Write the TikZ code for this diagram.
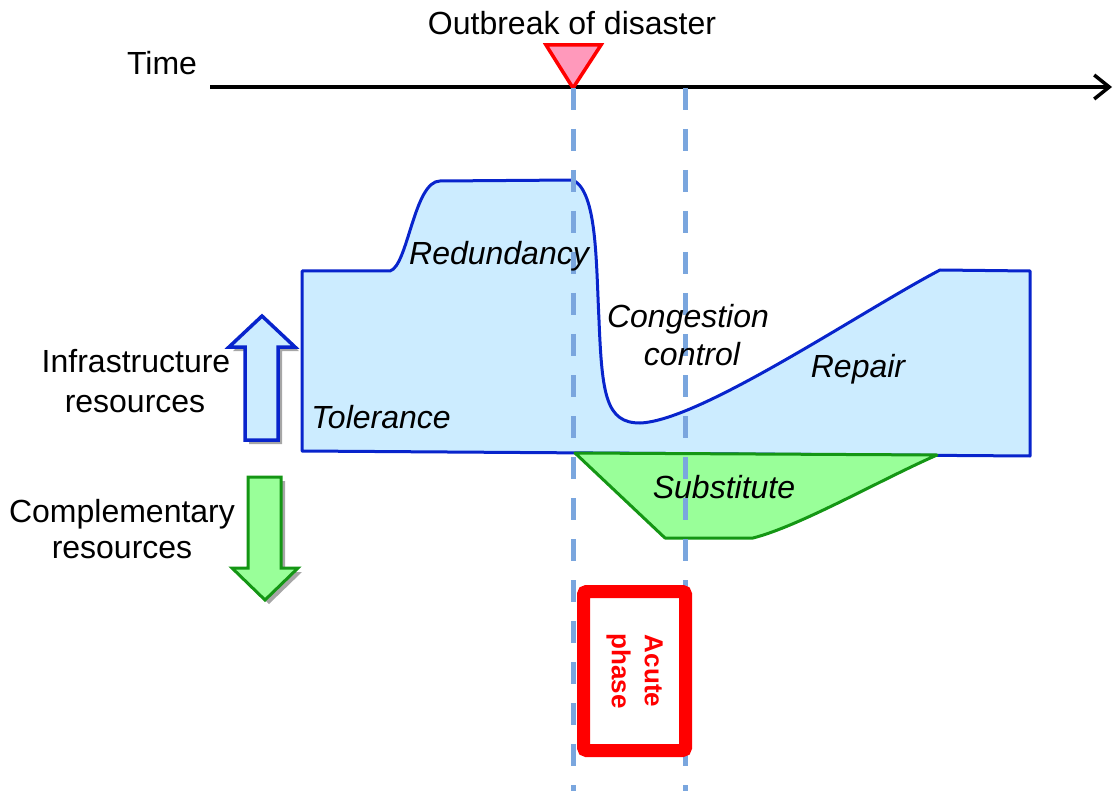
\documentclass[tikz,border=0pt]{standalone}
\usepackage{fontspec}
\setmainfont{Liberation Sans}
\usetikzlibrary{arrows.meta,shadows}

\definecolor{infrafill}{RGB}{204,236,255}
\definecolor{infraline}{RGB}{8,36,204}
\definecolor{compfill}{RGB}{153,255,153}
\definecolor{compline}{RGB}{20,150,20}
\definecolor{phaseline}{RGB}{122,166,222}
\definecolor{markfill}{RGB}{255,153,187}
\definecolor{alertred}{RGB}{255,0,0}

\begin{document}
\begin{tikzpicture}[x=1pt,y=-1pt,
  lbl/.style={font=\fontsize{32}{38}\selectfont, inner sep=0pt, anchor=base},
  ilbl/.style={lbl, font=\fontsize{32}{38}\selectfont\itshape},
  resarrow/.style={line width=3.5pt, line join=miter,
    drop shadow={shadow xshift=4pt, shadow yshift=-4pt, opacity=0.35, fill=black}},
  phasemark/.style={draw=phaseline, line width=5pt, dash pattern=on 22pt off 19pt},
  axisline/.style={line width=3.5pt, -{Straight Barb[length=15pt, width=24pt, line width=3.5pt]}}
]
\useasboundingbox (0,0) rectangle (1113,791);

% infrastructure resources over time
\draw[infraline, fill=infrafill, line width=3pt, line join=round]
  (302,271) -- (390,271)
  .. controls (408,266) and (414,181) .. (440,181)
  -- (573,180)
  .. controls (597,192) and (596,260) .. (599,320)
  .. controls (602,395) and (606,423) .. (640,423)
  .. controls (700,421) and (860,312) .. (940,270)
  -- (1030,271) -- (1030,456) -- (302,451) -- cycle;

% complementary resources
\draw[compline, fill=compfill, line width=3pt, line join=round]
  (575,453) -- (937,455)
  .. controls (880,480) and (800,526) .. (753,538)
  -- (665,538) -- cycle;

% time axis
\coordinate (t0) at (210,87);
\coordinate (t1) at (1112,87);
\draw[axisline] (t0) -- (t1);

% outbreak marker
\coordinate (mk1) at (546,45);
\coordinate (mk2) at (601,45);
\coordinate (outbreak) at (573,88);
\draw[alertred, fill=markfill, line width=3.5pt, line join=miter] (mk1) -- (mk2) -- (outbreak) -- cycle;

% phase boundaries
\coordinate (p1top) at (573,88);
\coordinate (p1bot) at (573,791);
\coordinate (p2top) at (685,88);
\coordinate (p2bot) at (685,791);
\draw[phasemark] (p1top) -- (p1bot);
\draw[phasemark] (p2top) -- (p2bot);

% resource direction arrows
\draw[resarrow, infraline, fill=infrafill]
  (245,440) -- (245,347) -- (229,347) -- (262,316) -- (295,347) -- (278,347) -- (278,440) -- cycle;
\draw[resarrow, compline, fill=compfill, line width=3pt]
  (248,477) -- (281,477) -- (281,568) -- (298,568) -- (265,600) -- (232,568) -- (248,568) -- cycle;

% labels
\node[lbl] (time) at (162,75) {Time};
\node[lbl] (outlbl) at (572,35) {Outbreak of disaster};
\node[lbl] (infra1) at (136,372) {Infrastructure};
\node[lbl] (infra2) at (135,412) {resources};
\node[lbl] (comp1) at (122,522) {Complementary};
\node[lbl] (comp2) at (122,558) {resources};

\node[ilbl] (redund) at (499,265) {Redundancy};
\node[ilbl] (toler) at (381,428) {Tolerance};
\node[ilbl] (cong1) at (688,327) {Congestion};
\node[ilbl] (cong2) at (692,365) {control};
\node[ilbl] (repair) at (858,377) {Repair};
\node[ilbl] (subst) at (724,498) {Substitute};

% acute phase box
\node[draw=alertred, line width=13pt, fill=white, rounded corners=3pt,
      rotate=-90, minimum width=159pt, minimum height=102pt, inner sep=0pt,
      align=center, text=alertred,
      font=\fontsize{26}{33}\selectfont\bfseries] (acute) at (634.5,671) {Acute\\phase};
\end{tikzpicture}
\end{document}
